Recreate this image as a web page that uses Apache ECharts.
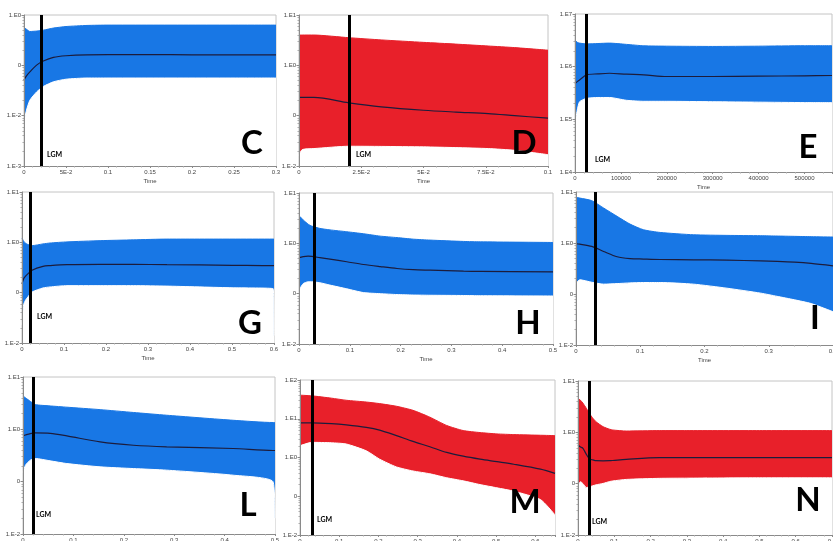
<!DOCTYPE html>
<html>
<head>
<meta charset="utf-8">
<script src="https://cdn.jsdelivr.net/npm/echarts@6/dist/echarts.min.js"></script>
<style>
html,body{margin:0;padding:0;background:#fff;}
#chart{width:833px;height:541px;}
</style>
</head>
<body>
<div id="chart"></div>
<script>
// ---------- Panel C ----------
const cTime   = [0, 0.001, 0.003, 0.007, 0.015, 0.023, 0.035, 0.05, 0.075, 0.1, 0.15, 0.2, 0.25, 0.3];
const cUpper  = [0.56, 0.55, 0.52, 0.47, 0.48, 0.50, 0.55, 0.59, 0.62, 0.63, 0.63, 0.63, 0.63, 0.63];
const cMedian = [0.051, 0.055, 0.062, 0.074, 0.101, 0.122, 0.144, 0.155, 0.162, 0.163, 0.163, 0.162, 0.162, 0.162];
const cLower  = [0.006, 0.009, 0.0129, 0.0203, 0.0296, 0.038, 0.047, 0.053, 0.056, 0.056, 0.056, 0.056, 0.056, 0.056];
const cXLabels = ["0", "5E-2", "0.1", "0.15", "0.2", "0.25", "0.3"];
const cYLabels = ["1.E-3", "1.E-2", "0", "1.E0"];
const cLgm = 0.0218;

// ---------- Panel D ----------
const dTime   = [0, 0.0013, 0.006, 0.02, 0.033, 0.05, 0.063, 0.076, 0.0866, 0.1];
const dUpper  = [4.0, 4.0, 4.0, 3.54, 3.2, 2.86, 2.64, 2.42, 2.25, 2.0];
const dMedian = [0.23, 0.23, 0.23, 0.18, 0.150, 0.128, 0.118, 0.110, 0.100, 0.089];
const dLower  = [0.0163, 0.0212, 0.0222, 0.0247, 0.0245, 0.024, 0.0232, 0.0222, 0.0205, 0.0168];
const dXLabels = ["0", "2.5E-2", "5E-2", "7.5E-2", "0.1"];
const dYLabels = ["1.E-2", "0", "1.E0", "1.E1"];
const dLgm = 0.0201;

// ---------- Panel E ----------
const eTime   = [0, 5000, 10000, 25000, 50000, 75000, 112000, 150000, 200000, 300000, 400000, 500000, 560000];
const eUpper  = [3.2e6, 2.9e6, 2.8e6, 2.7e6, 2.75e6, 2.8e6, 2.65e6, 2.49e6, 2.45e6, 2.42e6, 2.45e6, 2.5e6, 2.5e6];
const eMedian = [4.8e5, 5.2e5, 5.6e5, 6.97e5, 7.3e5, 7.5e5, 7.2e5, 7.0e5, 6.5e5, 6.5e5, 6.6e5, 6.7e5, 6.8e5];
const eLower  = [8.3e4, 1.5e5, 2.16e5, 2.5e5, 2.6e5, 2.6e5, 2.3e5, 2.2e5, 2.2e5, 2.16e5, 2.12e5, 2.08e5, 2.07e5];
const eXLabels = ["0", "100000", "200000", "300000", "400000", "500000"];
const eYLabels = ["1.E4", "1.E5", "1.E6", "1.E7"];
const eLgm = 25000;

// ---------- Panel G ----------
const gTime   = [0, 0.004, 0.008, 0.012, 0.024, 0.05, 0.067, 0.107, 0.186, 0.266, 0.345, 0.5, 0.598, 0.6];
const gUpper  = [1.22, 1.05, 0.97, 0.92, 0.86, 0.93, 0.97, 1.02, 1.08, 1.12, 1.16, 1.16, 1.16, 1.16];
const gMedian = [0.149, 0.19, 0.21, 0.228, 0.28, 0.334, 0.345, 0.36, 0.365, 0.365, 0.36, 0.35, 0.343, 0.343];
const gLower  = [0.023, 0.058, 0.07, 0.078, 0.103, 0.124, 0.13, 0.138, 0.138, 0.138, 0.135, 0.125, 0.12, 0.014];
const gXLabels = ["0", "0.1", "0.2", "0.3", "0.4", "0.5", "0.6"];
const gYLabels = ["1.E-2", "0", "1.E0", "1.E1"];
const gLgm = 0.024;

// ---------- Panel H ----------
const hTime   = [0, 0.002, 0.0085, 0.018, 0.025, 0.041, 0.061, 0.094, 0.127, 0.16, 0.193, 0.225, 0.258, 0.324, 0.357, 0.5];
const hUpper  = [3.54, 3.4, 2.9, 2.4, 2.2, 1.98, 1.85, 1.7, 1.55, 1.39, 1.3, 1.21, 1.16, 1.09, 1.07, 1.04];
const hMedian = [0.516, 0.525, 0.545, 0.557, 0.55, 0.52, 0.485, 0.43, 0.38, 0.345, 0.316, 0.3, 0.293, 0.28, 0.277, 0.272];
const hLower  = [0.093, 0.126, 0.159, 0.172, 0.172, 0.165, 0.148, 0.125, 0.105, 0.1, 0.096, 0.094, 0.093, 0.092, 0.091, 0.090];
const hXLabels = ["0", "0.1", "0.2", "0.3", "0.4", "0.5"];
const hYLabels = ["1.E-2", "0", "1.E0", "1.E1"];
const hLgm = 0.025;

// ---------- Panel I ----------
const iTime   = [0, 0.006, 0.0245, 0.043, 0.064, 0.084, 0.105, 0.131, 0.183, 0.235, 0.2875, 0.313, 0.34, 0.366, 0.4];
const iUpper  = [7.86, 7.6, 6.77, 4.85, 3.33, 2.35, 1.82, 1.61, 1.45, 1.41, 1.39, 1.37, 1.35, 1.33, 1.31];
const iMedian = [0.966, 0.95, 0.857, 0.683, 0.537, 0.495, 0.485, 0.475, 0.468, 0.461, 0.445, 0.435, 0.42, 0.397, 0.357];
const iLower  = [0.163, 0.19, 0.17, 0.156, 0.16, 0.165, 0.168, 0.168, 0.156, 0.13, 0.104, 0.09, 0.077, 0.065, 0.045];
const iXLabels = ["0", "0.1", "0.2", "0.3", "0.4"];
const iYLabels = ["1.E-2", "0", "1.E0", "1.E1"];
const iLgm = 0.0255;

// ---------- Panel L ----------
const lTime   = [0, 0.005, 0.0145, 0.0245, 0.054, 0.087, 0.153, 0.219, 0.285, 0.417, 0.496, 0.5];
const lUpper  = [4.34, 4.0, 3.43, 2.97, 2.8, 2.65, 2.38, 2.1, 1.86, 1.49, 1.35, 1.35];
const lMedian = [0.75, 0.78, 0.83, 0.855, 0.84, 0.75, 0.575, 0.497, 0.463, 0.43, 0.394, 0.394];
const lLower  = [0.15, 0.207, 0.258, 0.277, 0.25, 0.222, 0.192, 0.178, 0.166, 0.133, 0.1, 0.02];
const lXLabels = ["0", "0.1", "0.2", "0.3", "0.4", "0.5"];
const lYLabels = ["1.E-2", "0", "1.E0", "1.E1"];
const lLgm = 0.0244;

// ---------- Panel M ----------
const mTime   = [0, 0.03, 0.08, 0.118, 0.169, 0.203, 0.246, 0.288, 0.331, 0.374, 0.416, 0.459, 0.502, 0.545, 0.613, 0.65];
const mUpper  = [40.6, 39, 34, 30, 27, 24.6, 21, 16.5, 11, 6.7, 4.96, 4.4, 4.06, 3.9, 3.75, 3.67];
const mMedian = [7.87, 7.87, 7.5, 6.97, 6.0, 5.1, 3.67, 2.6, 1.9, 1.35, 1.08, 0.905, 0.78, 0.67, 0.5, 0.39];
const mLower  = [2.01, 2.46, 2.4, 2.23, 1.49, 0.905, 0.57, 0.449, 0.38, 0.3, 0.25, 0.2, 0.165, 0.135, 0.082, 0.033];
const mXLabels = ["0", "0.1", "0.2", "0.3", "0.4", "0.5", "0.6"];
const mYLabels = ["1.E-2", "0", "1.E0", "1.E1", "1.E2"];
const mLgm = 0.0255;

// ---------- Panel N ----------
const nTime   = [0, 0.007, 0.0137, 0.023, 0.032, 0.041, 0.05, 0.069, 0.087, 0.096, 0.133, 0.224, 0.3, 0.5, 0.7];
const nUpper  = [4.6, 4.2, 3.7, 2.94, 2.3, 1.88, 1.6, 1.29, 1.15, 1.11, 1.06, 1.08, 1.08, 1.08, 1.08];
const nMedian = [0.566, 0.52, 0.487, 0.372, 0.303, 0.29, 0.28, 0.278, 0.28, 0.283, 0.298, 0.321, 0.321, 0.321, 0.321];
const nLower  = [0.094, 0.109, 0.1, 0.084, 0.087, 0.091, 0.095, 0.101, 0.11, 0.113, 0.121, 0.127, 0.128, 0.13, 0.13];
const nXLabels = ["0", "0.1", "0.2", "0.3", "0.4", "0.5", "0.6", "0.7"];
const nYLabels = ["1.E-2", "0", "1.E0", "1.E1"];
const nLgm = 0.027;

const BLUE = "#1877e5";
const RED = "#e8202a";

const panels = [
  {name:"C", t:cTime, up:cUpper, med:cMedian, lo:cLower, xl:cXLabels, yl:cYLabels, lgm:cLgm, color:BLUE,
   xMax:0.3, xInt:0.05, yMinExp:-3, yMaxExp:0, grid:{left:24, top:15, width:252, height:151},
   letter:[252, 143], lgmText:[47, 155]},
  {name:"D", t:dTime, up:dUpper, med:dMedian, lo:dLower, xl:dXLabels, yl:dYLabels, lgm:dLgm, color:RED,
   xMax:0.1, xInt:0.025, yMinExp:-2, yMaxExp:1, grid:{left:299, top:15, width:249, height:151},
   letter:[524, 143], lgmText:[356, 155]},
  {name:"E", t:eTime, up:eUpper, med:eMedian, lo:eLower, xl:eXLabels, yl:eYLabels, lgm:eLgm, color:BLUE,
   xMax:560000, xInt:100000, yMinExp:4, yMaxExp:7, grid:{left:575, top:14, width:257, height:158},
   letter:[808, 147], lgmText:[595, 160]},
  {name:"G", t:gTime, up:gUpper, med:gMedian, lo:gLower, xl:gXLabels, yl:gYLabels, lgm:gLgm, color:BLUE,
   xMax:0.6, xInt:0.1, yMinExp:-2, yMaxExp:1, grid:{left:22, top:192, width:252, height:151},
   letter:[250, 323], lgmText:[37, 317]},
  {name:"H", t:hTime, up:hUpper, med:hMedian, lo:hLower, xl:hXLabels, yl:hYLabels, lgm:hLgm, color:BLUE,
   xMax:0.5, xInt:0.1, yMinExp:-2, yMaxExp:1, grid:{left:299, top:193, width:254, height:151},
   letter:[528, 323], lgmText:null},
  {name:"I", t:iTime, up:iUpper, med:iMedian, lo:iLower, xl:iXLabels, yl:iYLabels, lgm:iLgm, color:BLUE,
   xMax:0.4, xInt:0.1, yMinExp:-2, yMaxExp:1, grid:{left:576, top:192, width:257, height:153},
   letter:[815, 318], lgmText:null},
  {name:"L", t:lTime, up:lUpper, med:lMedian, lo:lLower, xl:lXLabels, yl:lYLabels, lgm:lLgm, color:BLUE,
   xMax:0.5, xInt:0.1, yMinExp:-2, yMaxExp:1, grid:{left:23, top:377, width:252, height:157},
   letter:[248, 505], lgmText:[36, 515]},
  {name:"M", t:mTime, up:mUpper, med:mMedian, lo:mLower, xl:mXLabels, yl:mYLabels, lgm:mLgm, color:RED,
   xMax:0.65, xInt:0.1, yMinExp:-2, yMaxExp:2, grid:{left:300, top:380, width:255, height:155},
   letter:[525, 502], lgmText:[317, 520]},
  {name:"N", t:nTime, up:nUpper, med:nMedian, lo:nLower, xl:nXLabels, yl:nYLabels, lgm:nLgm, color:RED,
   xMax:0.7, xInt:0.1, yMinExp:-2, yMaxExp:1, grid:{left:578, top:381, width:254, height:154},
   letter:[808, 500], lgmText:[592, 522]}
];

const FONT = "Liberation Sans";
const grids = [], xAxes = [], yAxes = [], series = [], graphics = [];

panels.forEach((p, idx) => {
  grids.push(Object.assign({show:true, borderColor:"#c4c4c4", borderWidth:1, backgroundColor:"transparent",
    containLabel:false, outerBoundsMode:"none"}, p.grid));
  xAxes.push({
    type:"value", gridIndex:idx, min:0, max:p.xMax, interval:p.xInt, z:5,
    axisLine:{show:true, onZero:false, lineStyle:{color:"#8a8a8a", width:1}},
    axisTick:{show:true, length:2, lineStyle:{color:"#8a8a8a"}},
    minorTick:{show:true, splitNumber:5, length:1.5, lineStyle:{color:"#aaa"}},
    splitLine:{show:false},
    axisLabel:{fontSize:6, color:"#444", margin:3, fontFamily:FONT, hideOverlap:false,
      formatter:(v) => {
        const k = v / p.xInt; const r = Math.round(k);
        if (Math.abs(k - r) > 1e-6) return "";
        return p.xl[r] !== undefined ? p.xl[r] : "";
      }},
    name:"Time", nameLocation:"middle", nameGap:12,
    nameTextStyle:{fontSize:6, color:"#444", fontFamily:FONT}
  });
  yAxes.push({
    type:"log", logBase:10, gridIndex:idx, z:5,
    min:Math.pow(10, p.yMinExp), max:Math.pow(10, p.yMaxExp), interval:1,
    axisLine:{show:true, lineStyle:{color:"#8a8a8a", width:1}},
    axisTick:{show:true, length:2.5, lineStyle:{color:"#8a8a8a"}},
    minorTick:{show:true, splitNumber:9, length:1.5, lineStyle:{color:"#aaa"}},
    splitLine:{show:false},
    axisLabel:{fontSize:6, color:"#444", margin:3, fontFamily:FONT,
      formatter:(v) => {
        const e = Math.round(Math.log10(v)) - p.yMinExp;
        return p.yl[e] !== undefined ? p.yl[e] : "";
      }}
  });
  // 95% HPD band: upper bound filled with colour, lower bound masked in white
  series.push({
    type:"line", xAxisIndex:idx, yAxisIndex:idx, silent:true, z:2,
    data:p.t.map((t, i) => [t, p.up[i]]),
    showSymbol:false, smooth:0.2,
    lineStyle:{width:1, color:p.color},
    areaStyle:{color:p.color, opacity:1, origin:"start"}
  });
  series.push({
    type:"line", xAxisIndex:idx, yAxisIndex:idx, silent:true, z:2,
    data:p.t.map((t, i) => [t, p.lo[i]]),
    showSymbol:false, smooth:0.2,
    lineStyle:{width:1, color:"#fff"},
    areaStyle:{color:"#fff", opacity:1, origin:"start"}
  });
  // median line + LGM marker
  series.push({
    type:"line", xAxisIndex:idx, yAxisIndex:idx, silent:true, z:3,
    data:p.t.map((t, i) => [t, p.med[i]]),
    showSymbol:false, smooth:0.3,
    lineStyle:{color:"#1c1c3c", width:1.2},
    markLine:{
      symbol:"none", silent:true, animation:false,
      label:{show:false},
      lineStyle:{color:"#000", width:3, type:"solid"},
      data:[{xAxis:p.lgm}]
    }
  });
  graphics.push({
    type:"text", x:p.letter[0], y:p.letter[1], z:10,
    style:{text:p.name, fontSize:33, fontWeight:"bold", fontFamily:"Lato", fill:"#000",
           align:"center", verticalAlign:"middle"}
  });
  if (p.lgmText) {
    graphics.push({
      type:"text", x:p.lgmText[0], y:p.lgmText[1], z:10,
      style:{text:"LGM", fontSize:7, fontWeight:"bold", fontFamily:"Lato", fill:"#000",
             align:"left", verticalAlign:"middle"}
    });
  }
});

const chart = echarts.init(document.getElementById("chart"), null, {renderer:"canvas"});
chart.setOption({
  animation:false,
  backgroundColor:"#fff",
  grid:grids, xAxis:xAxes, yAxis:yAxes, series:series, graphic:graphics
});
</script>
</body>
</html>
